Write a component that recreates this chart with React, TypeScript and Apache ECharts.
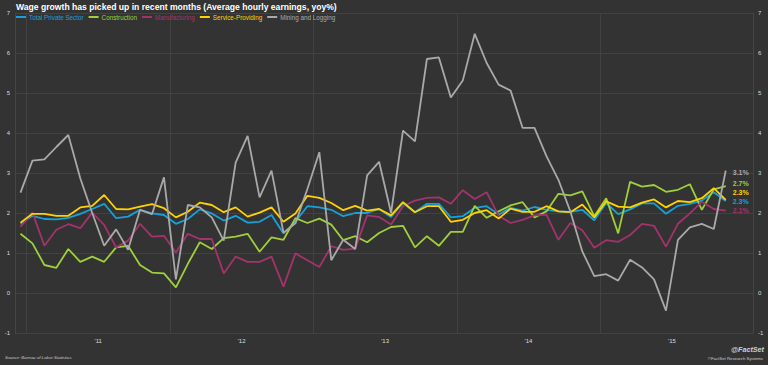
import { useEffect, useRef } from "react";
import * as echarts from "echarts";

// Monthly, June 2010 .. May 2015 (60 points)
const startYear = 2010;
const startMonth = 6;

const seriesNames = [
  "Total Private Sector",
  "Construction",
  "Manufacturing",
  "Service-Providing",
  "Mining and Logging",
];

const totalPrivate = [
  1.73, 1.93, 1.85, 1.84, 1.88, 1.98, 2.10, 2.23, 1.87, 1.91, 2.08, 1.99,
  1.95, 1.73, 1.85, 2.09, 1.99, 1.81, 1.93, 1.76, 1.78, 1.95, 1.49, 1.78,
  2.17, 2.14, 2.08, 1.92, 2.00, 2.00, 2.10, 1.90, 2.25, 2.02, 2.23, 2.23,
  1.89, 1.92, 2.13, 2.17, 1.96, 2.13, 2.06, 2.15, 2.08, 2.04, 2.03, 2.08,
  1.82, 2.25, 1.97, 2.09, 2.24, 2.24, 1.98, 2.18, 2.23, 2.31, 2.52, 2.30,
];

const construction = [
  1.48, 1.24, 0.70, 0.63, 1.10, 0.78, 0.91, 0.78, 1.14, 1.18, 0.70, 0.51,
  0.49, 0.14, 0.73, 1.27, 1.10, 1.37, 1.41, 1.48, 1.03, 1.39, 1.33, 1.87,
  1.75, 1.86, 1.71, 1.32, 1.42, 1.27, 1.50, 1.65, 1.68, 1.14, 1.42, 1.18,
  1.53, 1.53, 2.18, 1.88, 2.04, 2.19, 2.27, 1.89, 2.04, 2.48, 2.44, 2.54,
  1.92, 2.37, 1.49, 2.78, 2.66, 2.70, 2.53, 2.58, 2.72, 2.08, 2.59, 2.67,
];

const manufacturing = [
  1.66, 2.01, 1.18, 1.58, 1.72, 1.62, 2.01, 1.70, 1.14, 1.31, 1.73, 1.41,
  1.43, 1.01, 1.48, 1.35, 1.35, 0.49, 0.91, 0.78, 0.78, 0.91, 0.16, 0.99,
  0.82, 0.65, 1.17, 1.08, 1.11, 1.94, 1.90, 1.71, 2.17, 2.31, 2.38, 2.39,
  2.23, 2.57, 2.35, 2.52, 1.93, 1.75, 1.83, 1.94, 1.96, 1.33, 1.75, 1.57,
  1.13, 1.32, 1.28, 1.45, 1.73, 1.68, 1.16, 1.73, 1.99, 2.28, 2.10, 2.06,
];

const serviceProviding = [
  1.76, 1.98, 1.98, 1.93, 1.93, 2.14, 2.18, 2.45, 2.10, 2.09, 2.16, 2.22,
  2.12, 1.89, 2.03, 2.26, 2.20, 2.02, 2.14, 1.91, 2.01, 2.14, 1.78, 1.99,
  2.43, 2.38, 2.25, 2.07, 2.18, 2.06, 2.10, 1.94, 2.27, 2.02, 2.17, 2.17,
  1.78, 1.83, 2.00, 2.07, 1.86, 2.11, 2.03, 2.03, 2.17, 2.04, 2.02, 2.21,
  1.89, 2.29, 2.16, 2.14, 2.26, 2.34, 2.14, 2.30, 2.27, 2.37, 2.62, 2.33,
];

const miningLogging = [
  2.51, 3.31, 3.34, 3.65, 3.95, 2.87, 2.00, 1.18, 1.59, 1.08, 2.08, 1.97,
  2.89, 0.34, 2.20, 2.14, 1.89, 1.31, 3.26, 3.93, 2.39, 3.06, 1.51, 1.74,
  2.60, 3.52, 0.82, 1.33, 1.10, 2.94, 3.28, 2.00, 4.06, 3.79, 5.85, 5.89,
  4.89, 5.31, 6.48, 5.75, 5.21, 5.06, 4.13, 4.13, 3.42, 2.83, 2.04, 1.04,
  0.42, 0.47, 0.31, 0.83, 0.64, 0.34, -0.44, 1.33, 1.64, 1.73, 1.60, 3.06,
];

const yTicks = [-1, 0, 1, 2, 3, 4, 5, 6, 7];
const yearGridLines = [2010.5, 2011.5, 2012.5, 2013.5, 2014.5];

const colors = ["#17a1dc", "#9fcf3a", "#a3336c", "#ffd200", "#a9a9a9"];
const endLabelShift = [0, -3, 0, -7.5, 2];

const FONT = "'Liberation Sans', Arial, Helvetica, sans-serif";

const monthX = (i: number) => startYear + (startMonth - 1 + i + 0.5) / 12;

export default function App() {
  const ref = useRef<HTMLDivElement>(null);

  useEffect(() => {
    if (!ref.current) return;
    const chart = echarts.init(ref.current, undefined, { renderer: "svg" });
    const allValues = [totalPrivate, construction, manufacturing, serviceProviding, miningLogging];

    const series: any[] = allValues.map((vals, si) => ({
      name: seriesNames[si],
      type: "line",
      data: vals.map((v, i) => [monthX(i), v]),
      showSymbol: false,
      symbol: "none",
      lineStyle: { width: 1.8, color: colors[si] },
      itemStyle: { color: colors[si] },
      emphasis: { disabled: true },
      endLabel: {
        show: true,
        formatter: (p: any) => Number(p.value[1]).toFixed(1) + "%",
        color: colors[si],
        fontSize: 7,
        fontWeight: "bold",
        fontFamily: FONT,
        distance: 7,
        offset: [0, endLabelShift[si]],
      },
      markLine:
        si === 0
          ? {
              silent: true,
              symbol: "none",
              z: 1,
              label: { show: false },
              lineStyle: { color: "#424242", width: 1, type: "solid" },
              emphasis: { disabled: true },
              data: yearGridLines.map((v) => ({ xAxis: v })),
            }
          : undefined,
    }));

    const yAxisBase = {
      type: "value",
      min: yTicks[0],
      max: yTicks[yTicks.length - 1],
      interval: 1,
      axisTick: { show: false },
      axisLine: { show: true, lineStyle: { color: "#454545", width: 1 } },
      axisLabel: { color: "#d8d8d8", fontSize: 6, margin: 5, fontFamily: FONT },
    };

    chart.setOption({
      animation: false,
      backgroundColor: "#333333",
      color: colors,
      textStyle: { fontFamily: FONT },
      title: {
        text: "Wage growth has picked up in recent months (Average hourly earnings, yoy%)",
        left: 16,
        top: 2,
        padding: 0,
        textStyle: { color: "#ffffff", fontSize: 8.6, fontWeight: "bold", fontFamily: FONT },
      },
      legend: {
        left: 16,
        top: 14,
        padding: 0,
        icon: "rect",
        itemWidth: 10,
        itemHeight: 2,
        itemGap: 5,
        selectedMode: false,
        textStyle: { fontSize: 6.3, fontFamily: FONT, padding: [0, 0, 0, -2] },
        data: seriesNames.map((n, i) => ({ name: n, textStyle: { color: colors[i] } })),
      },
      grid: { left: 15, right: 15, top: 13, bottom: 32, containLabel: false },
      xAxis: {
        type: "value",
        min: 2010.42,
        max: 2015.565,
        axisLine: { show: false },
        axisTick: { show: false },
        splitLine: { show: false },
        axisLabel: {
          color: "#dddddd",
          fontSize: 6,
          margin: 5,
          fontFamily: FONT,
          showMinLabel: false,
          showMaxLabel: false,
          formatter: (v: number) => (Number.isInteger(v) ? "'" + String(v).slice(2) : ""),
        },
      },
      yAxis: [
        { ...yAxisBase, position: "left", splitLine: { show: true, lineStyle: { color: "#424242", width: 1 } } },
        { ...yAxisBase, position: "right", splitLine: { show: false } },
      ],
      series,
      graphic: [
        {
          type: "text",
          left: 5,
          top: 355,
          style: {
            text: "Source: Bureau of Labor Statistics",
            fill: "#cccccc",
            font: `italic 4.4px ${FONT}`,
          },
        },
        {
          type: "text",
          right: 4,
          top: 346,
          style: {
            text: "@FactSet",
            fill: "#d0d0d0",
            font: `italic bold 7.2px ${FONT}`,
          },
        },
        {
          type: "text",
          right: 5,
          top: 356.5,
          style: {
            text: "©FactSet Research Systems",
            fill: "#cccccc",
            font: `4.3px ${FONT}`,
          },
        },
      ],
    });

    return () => chart.dispose();
  }, []);

  return (
    <div
      ref={ref}
      style={{ position: "fixed", left: 0, top: 0, width: 768, height: 365 }}
    />
  );
}
